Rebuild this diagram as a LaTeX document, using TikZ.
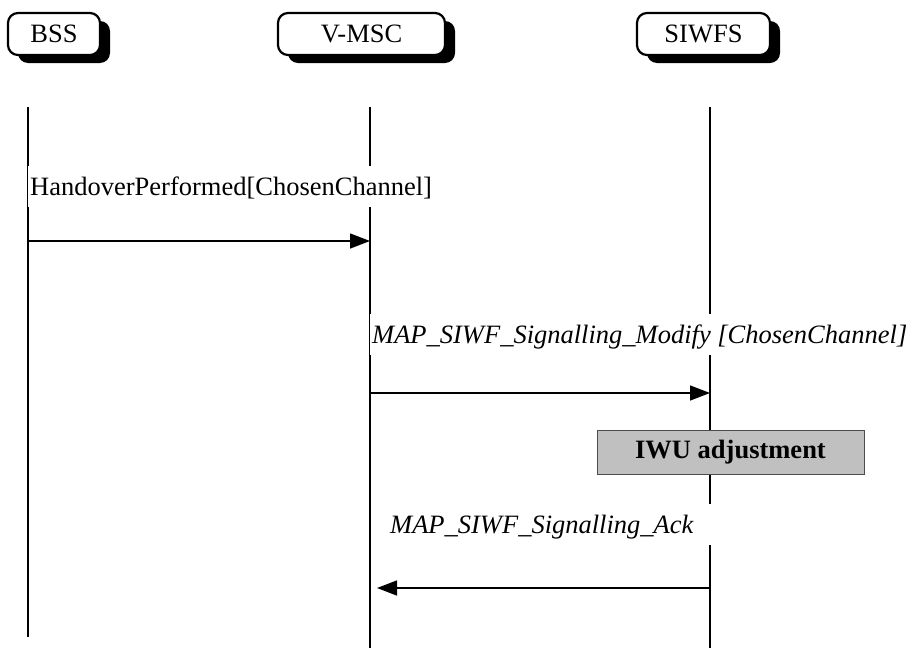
\documentclass[tikz,border=0pt]{standalone}
\usepackage{fontspec}
\setmainfont{Liberation Serif}
\usepackage{xcolor}
\usetikzlibrary{arrows.meta,positioning,shadows}
\definecolor{iwugray}{HTML}{C0C0C0}

\begin{document}
\begin{tikzpicture}[x=1pt, y=-1pt,
    font=\fontsize{26.5}{30}\selectfont,
    hdr/.style={rectangle, draw=black, line width=2.2pt, fill=white, rounded corners=10pt, minimum height=42pt, inner sep=0pt,
        drop shadow={shadow xshift=10pt, shadow yshift=-8pt, fill=black, opacity=1}},
    life/.style={line width=2.4pt},
    msg/.style={line width=1.4pt, -{Triangle[length=20pt, width=15pt]}},
    lbl/.style={fill=white, inner xsep=2pt, inner ysep=0pt, text height=29pt, text depth=12pt, anchor=base west},
    act/.style={rectangle, draw=black!70, line width=0.8pt, fill=iwugray, minimum width=267pt, minimum height=44pt, font=\fontsize{26.5}{30}\selectfont\bfseries}
]
    \useasboundingbox (0,0) rectangle (910,648);

    % Entities
    \node[hdr, minimum width=92pt] (bss) at (54,34) {BSS};
    \node[hdr, minimum width=167pt] (vmsc) at (361.5,34) {V-MSC};
    \node[hdr, minimum width=133pt] (siwfs) at (703.5,34) {SIWFS};

    % Lifelines
    \coordinate (bsstop) at (28,107);   \coordinate (bssbot) at (28,637);
    \coordinate (vmsctop) at (370,107); \coordinate (vmscbot) at (370,648);
    \coordinate (siwfstop) at (710,107); \coordinate (siwfsbot) at (710,648);
    \draw[life] (bsstop) -- (bssbot);
    \draw[life] (vmsctop) -- (vmscbot);
    \draw[life] (siwfstop) -- (siwfsbot);

    % Message end points
    \coordinate (hoS) at (28,241);  \coordinate (hoE) at (370,241);
    \coordinate (modS) at (370,393); \coordinate (modE) at (710,393);
    \coordinate (ackS) at (710,588); \coordinate (ackE) at (377,588);

    % Messages
    \draw[msg] (hoS) -- (hoE);
    \draw[msg] (modS) -- (modE);
    \draw[msg] (ackS) -- (ackE);

    % Labels on messages
    \node[lbl] (holbl) at (28,195) {HandoverPerformed[ChosenChannel]};
    \node[lbl] (modlbl) at (370,343) {\itshape MAP\_SIWF\_Signalling\_Modify [ChosenChannel]};
    \node[lbl, text width=320pt, align=left] (acklbl) at (388,533) {\itshape MAP\_SIWF\_Signalling\_Ack};

    % Action on SIWFS
    \node[act] (iwu) at (730.5,452.5) {IWU adjustment};

\end{tikzpicture}
\end{document}
